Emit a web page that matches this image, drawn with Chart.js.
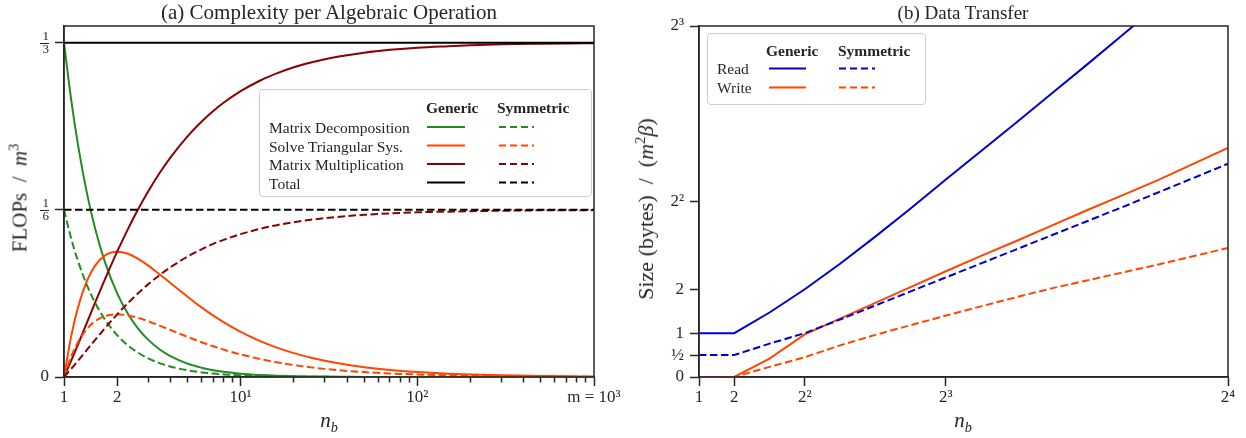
<!DOCTYPE html>
<html><head><meta charset="utf-8">
<script src="https://cdn.jsdelivr.net/npm/chart.js@4.4.1/dist/chart.umd.min.js"></script>
<style>
html,body{margin:0;padding:0;background:#fff;}
body{width:1246px;height:438px;position:relative;overflow:hidden;font-family:"Liberation Serif",serif;color:#262626;}
.wrap{position:absolute;top:0;}
.t{position:absolute;white-space:nowrap;line-height:1;z-index:5;}
.title{font-size:19px;transform:translate(-50%,-50%);}
.xlab{font-size:21px;transform:translate(-50%,-50%);}
.ylab{font-size:21px;transform:translate(-50%,-50%) rotate(-90deg);}
sup,sub{font-size:68%;line-height:0;}
.leg{position:absolute;border:1px solid #cccccc;border-radius:4px;background:rgba(255,255,255,0.8);box-sizing:border-box;z-index:6;}
.leg .t{font-size:15.5px;transform:translateY(-50%);}
.leg .h{font-weight:bold;}
.leg svg{position:absolute;left:0;top:0;overflow:visible;}
</style></head>
<body>
<div class="wrap" style="left:0;width:640px;height:438px"><canvas id="cL" width="640" height="438"></canvas></div>
<div class="wrap" style="left:640px;width:606px;height:438px"><canvas id="cR" width="606" height="438"></canvas></div>

<div class="t title" style="left:329px;top:12px;font-size:21px">(a) Complexity per Algebraic Operation</div>
<div class="t title" style="left:963px;top:12px">(b) Data Transfer</div>
<div class="t ylab" style="left:20px;top:198px">FLOPs&nbsp; / &nbsp;<i>m</i><sup>3</sup></div>
<div class="t ylab" style="left:646px;top:209px;font-size:22px">Size (bytes)&nbsp; / &nbsp;(<i>m</i><sup>2</sup><i>β</i>)</div>
<div class="t xlab" style="left:329px;top:420px"><i>n</i><sub><i>b</i></sub></div>
<div class="t xlab" style="left:963px;top:420px"><i>n</i><sub><i>b</i></sub></div>

<div class="leg" style="left:259px;top:89px;width:333px;height:108px">
  <div class="t h" style="left:166px;top:18px">Generic</div>
  <div class="t h" style="left:237px;top:18px">Symmetric</div>
  <div class="t" style="left:9px;top:38px">Matrix Decomposition</div>
  <div class="t" style="left:9px;top:56.5px">Solve Triangular Sys.</div>
  <div class="t" style="left:9px;top:75px">Matrix Multiplication</div>
  <div class="t" style="left:9px;top:93.5px">Total</div>
  <svg width="333" height="108">
    <g stroke-width="2" fill="none">
      <line x1="167" x2="205" y1="37" y2="37" stroke="#228B22"/>
      <line x1="239" x2="274" y1="37" y2="37" stroke="#228B22" stroke-dasharray="7,4"/>
      <line x1="167" x2="205" y1="55.5" y2="55.5" stroke="#FF4500"/>
      <line x1="239" x2="274" y1="55.5" y2="55.5" stroke="#FF4500" stroke-dasharray="7,4"/>
      <line x1="167" x2="205" y1="74" y2="74" stroke="#8B0000"/>
      <line x1="239" x2="274" y1="74" y2="74" stroke="#8B0000" stroke-dasharray="7,4"/>
      <line x1="167" x2="205" y1="92.5" y2="92.5" stroke="#000000"/>
      <line x1="239" x2="274" y1="92.5" y2="92.5" stroke="#000000" stroke-dasharray="7,4"/>
    </g>
  </svg>
</div>

<div class="leg" style="left:707px;top:33px;width:219px;height:72px">
  <div class="t h" style="left:58px;top:17px">Generic</div>
  <div class="t h" style="left:130px;top:17px">Symmetric</div>
  <div class="t" style="left:9px;top:35px">Read</div>
  <div class="t" style="left:9px;top:54px">Write</div>
  <svg width="219" height="72">
    <g stroke-width="2" fill="none">
      <line x1="61" x2="98" y1="34.5" y2="34.5" stroke="#0000CD"/>
      <line x1="131" x2="167" y1="34.5" y2="34.5" stroke="#0000CD" stroke-dasharray="7,4"/>
      <line x1="61" x2="98" y1="53.5" y2="53.5" stroke="#FF4500"/>
      <line x1="131" x2="167" y1="53.5" y2="53.5" stroke="#FF4500" stroke-dasharray="7,4"/>
    </g>
  </svg>
</div>

<script>
// ---------- (a) Complexity per Algebraic Operation ----------
const nbA = [1, 1.1, 1.2, 1.35, 1.5, 1.7, 2, 2.3, 2.6, 3, 3.5, 4, 5, 6, 7, 8, 10, 13, 16, 20, 25, 30, 40, 50, 70, 100, 150, 200, 300, 500, 700, 1000];
const decompGeneric = [0.3333, 0.2755, 0.2315, 0.1829, 0.1481, 0.1153, 0.0833, 0.0630, 0.0493, 0.0370, 0.0272, 0.0208, 0.0133, 0.0093, 0.0068, 0.0052, 0.0033, 0.0020, 0.0013, 0.0008, 0.0005, 0.0004, 0.0002, 0.0001, 0.0001, 0, 0, 0, 0, 0, 0, 0];
const trsmGeneric = [0, 0.0413, 0.0694, 0.0960, 0.1111, 0.1211, 0.1250, 0.1229, 0.1183, 0.1111, 0.1020, 0.0938, 0.0800, 0.0694, 0.0612, 0.0547, 0.0450, 0.0355, 0.0293, 0.0238, 0.0192, 0.0161, 0.0122, 0.0098, 0.0070, 0.0050, 0.0033, 0.0025, 0.0017, 0.0010, 0.0007, 0.0005];
const gemmGeneric = [0, 0.0165, 0.0324, 0.0544, 0.0741, 0.0969, 0.1250, 0.1475, 0.1657, 0.1852, 0.2041, 0.2188, 0.2400, 0.2546, 0.2653, 0.2734, 0.2850, 0.2959, 0.3027, 0.3088, 0.3136, 0.3169, 0.3209, 0.3234, 0.3262, 0.3284, 0.3299, 0.3308, 0.3317, 0.3323, 0.3326, 0.3328];
const decompSymmetric = [0.1667, 0.1377, 0.1157, 0.0914, 0.0741, 0.0577, 0.0417, 0.0315, 0.0247, 0.0185, 0.0136, 0.0104, 0.0067, 0.0046, 0.0034, 0.0026, 0.0017, 0.0010, 0.0007, 0.0004, 0.0003, 0.0002, 0.0001, 0.0001, 0, 0, 0, 0, 0, 0, 0, 0];
const trsmSymmetric = [0, 0.0207, 0.0347, 0.0480, 0.0556, 0.0606, 0.0625, 0.0614, 0.0592, 0.0556, 0.0510, 0.0469, 0.0400, 0.0347, 0.0306, 0.0273, 0.0225, 0.0178, 0.0146, 0.0119, 0.0096, 0.0081, 0.0061, 0.0049, 0.0035, 0.0025, 0.0017, 0.0012, 0.0008, 0.0005, 0.0004, 0.0002];
const gemmSymmetric = [0, 0.0083, 0.0162, 0.0272, 0.0370, 0.0484, 0.0625, 0.0737, 0.0828, 0.0926, 0.1020, 0.1094, 0.1200, 0.1273, 0.1327, 0.1367, 0.1425, 0.1479, 0.1514, 0.1544, 0.1568, 0.1584, 0.1605, 0.1617, 0.1631, 0.1642, 0.1649, 0.1654, 0.1658, 0.1662, 0.1663, 0.1664];
const nbTotal = [1, 1000];
const totalGeneric = [0.3333, 0.3333];
const totalSymmetric = [0.1667, 0.1667];

const xTicksA = [1, 2, 3, 4, 5, 6, 7, 8, 9, 10, 20, 30, 40, 50, 60, 70, 80, 90, 100, 200, 300, 400, 500, 600, 700, 800, 900, 1000];
const xMajorA = [1, 2, 10, 100, 1000];
const xLabelsA = ['1', '2', '10¹', '10²', 'm = 10³'];
const yTicksA = [0, 1/6, 1/3];
const yLabelsA = ['0', ['1', '6'], ['1', '3']];

// ---------- (b) Data Transfer ----------
const nbB = [1, 2, 3, 4, 5, 6, 7, 8, 9, 10, 11, 12, 13, 14, 15, 16];
const readGeneric = [1, 1, 1.47, 2.0, 2.58, 3.2, 3.84, 4.5, 5.15, 5.8, 6.46, 7.12, 7.79, 8.46, 9.13, 9.8];
const writeGeneric = [0, 0, 0.42, 0.97, 1.33, 1.69, 2.05, 2.41, 2.76, 3.1, 3.45, 3.8, 4.14, 4.48, 4.85, 5.22];
const readSymmetric = [0.5, 0.5, 0.76, 1.0, 1.31, 1.63, 1.95, 2.27, 2.59, 2.91, 3.23, 3.55, 3.87, 4.2, 4.53, 4.86];
const writeSymmetric = [0, 0, 0.23, 0.45, 0.72, 0.96, 1.18, 1.4, 1.61, 1.82, 2.02, 2.2, 2.38, 2.56, 2.75, 2.94];
const xTicksB = [1, 2, 4, 8, 16];
const xLabelsB = ['1', '2', '2²', '2³', '2⁴'];
const yTicksB = [0, 0.5, 1, 2, 4, 8];
const yLabelsB = ['0', '½', '1', '2', '2²', '2³'];

// ---------- styling ----------
const INK = '#262626';
const FAM = "'Liberation Serif', serif";
const GREEN = '#228B22', ORANGE = '#FF4500', DARKRED = '#8B0000', BLUE = '#0000CD', BLACK = '#000000';
const DASH = [7.5, 3.5];

function pts(xs, ys) { return xs.map((x, i) => ({x: x, y: ys[i]})); }
function line(label, xs, ys, color, dashed, smooth) {
  return {
    label: label, data: pts(xs, ys), borderColor: color, backgroundColor: color,
    borderWidth: 2, borderDash: dashed ? DASH : [], pointRadius: 0, fill: false,
    tension: 0, cubicInterpolationMode: smooth ? 'monotone' : 'default', borderCapStyle: 'butt'
  };
}

const framePlugin = {
  id: 'frame',
  afterDraw(chart) {
    const a = chart.chartArea, ctx = chart.ctx;
    ctx.save();
    ctx.strokeStyle = INK; ctx.lineWidth = 1.5;
    ctx.strokeRect(a.left, a.top, a.right - a.left, a.bottom - a.top);
    ctx.restore();
  }
};
const fracPlugin = {
  id: 'frac',
  afterDraw(chart) {
    const y = chart.scales.y, ctx = chart.ctx;
    ctx.save();
    ctx.strokeStyle = INK; ctx.lineWidth = 1;
    yTicksA.forEach((v, i) => {
      if (!Array.isArray(yLabelsA[i])) return;
      const py = Math.round(y.getPixelForValue(v)) + 0.5;
      ctx.beginPath();
      ctx.moveTo(y.right - 9 - 6 - 9, py);
      ctx.lineTo(y.right - 9 - 6, py);
      ctx.stroke();
    });
    ctx.restore();
  }
};

function axisBase() {
  return {
    border: {display: true, color: INK, width: 1.5},
    grid: {display: true, drawOnChartArea: false, drawTicks: true, tickLength: 9, tickWidth: 1.5, tickColor: INK},
  };
}

// chart (a)
const xA = axisBase();
Object.assign(xA, {
  type: 'logarithmic', min: 1, max: 1000,
  afterBuildTicks: s => { s.ticks = xTicksA.map(v => ({value: v})); },
  afterFit: s => { s.height = 61; },
  ticks: {
    autoSkip: false, maxRotation: 0, minRotation: 0, padding: 1, color: INK,
    font: {family: FAM, size: 17},
    callback: v => { const k = xMajorA.indexOf(v); return k >= 0 ? xLabelsA[k] : ''; }
  }
});
xA.grid.tickBorderDash = c => (c.tick && xMajorA.indexOf(c.tick.value) < 0) ? [5, 40] : [];
const yA = axisBase();
Object.assign(yA, {
  type: 'linear', min: 0, max: 0.35,
  afterBuildTicks: s => { s.ticks = yTicksA.map(v => ({value: v})); },
  afterFit: s => { s.width = 64; },
  ticks: {
    autoSkip: false, padding: 6, color: INK,
    font: c => (c.tick && c.tick.value !== 0) ? {family: FAM, size: 13, lineHeight: 1.0} : {family: FAM, size: 17},
    callback: (v, i) => yLabelsA[i]
  }
});

new Chart(document.getElementById('cL'), {
  type: 'line',
  data: {
    datasets: [
      line('Total (Generic)', nbTotal, totalGeneric, BLACK, false, false),
      line('Total (Symmetric)', nbTotal, totalSymmetric, BLACK, true, false),
      line('Matrix Multiplication (Symmetric)', nbA, gemmSymmetric, DARKRED, true, true),
      line('Solve Triangular Sys. (Symmetric)', nbA, trsmSymmetric, ORANGE, true, true),
      line('Matrix Decomposition (Symmetric)', nbA, decompSymmetric, GREEN, true, true),
      line('Matrix Multiplication (Generic)', nbA, gemmGeneric, DARKRED, false, true),
      line('Solve Triangular Sys. (Generic)', nbA, trsmGeneric, ORANGE, false, true),
      line('Matrix Decomposition (Generic)', nbA, decompGeneric, GREEN, false, true)
    ]
  },
  options: {
    responsive: false, animation: false, devicePixelRatio: 1,
    layout: {padding: {left: 0, right: 46, top: 26, bottom: 0}},
    plugins: {legend: {display: false}, title: {display: false}, tooltip: {enabled: false}},
    scales: {x: xA, y: yA}
  },
  plugins: [framePlugin, fracPlugin]
});

// chart (b)
const xB = axisBase();
Object.assign(xB, {
  type: 'linear', min: 1, max: 16,
  afterBuildTicks: s => { s.ticks = xTicksB.map(v => ({value: v})); },
  afterFit: s => { s.height = 61; },
  ticks: {
    autoSkip: false, maxRotation: 0, minRotation: 0, padding: 1, color: INK,
    font: {family: FAM, size: 17},
    callback: (v, i) => xLabelsB[i]
  }
});
const yB = axisBase();
Object.assign(yB, {
  type: 'linear', min: 0, max: 8,
  afterBuildTicks: s => { s.ticks = yTicksB.map(v => ({value: v})); },
  afterFit: s => { s.width = 59; },
  ticks: {
    autoSkip: false, padding: 6, color: INK,
    font: {family: FAM, size: 17},
    callback: (v, i) => yLabelsB[i]
  }
});

new Chart(document.getElementById('cR'), {
  type: 'line',
  data: {
    datasets: [
      line('Write (Symmetric)', nbB, writeSymmetric, ORANGE, true, false),
      line('Read (Symmetric)', nbB, readSymmetric, BLUE, true, false),
      line('Write (Generic)', nbB, writeGeneric, ORANGE, false, false),
      line('Read (Generic)', nbB, readGeneric, BLUE, false, false)
    ]
  },
  options: {
    responsive: false, animation: false, devicePixelRatio: 1,
    layout: {padding: {left: 0, right: 18, top: 26, bottom: 0}},
    plugins: {legend: {display: false}, title: {display: false}, tooltip: {enabled: false}},
    scales: {x: xB, y: yB}
  },
  plugins: [framePlugin]
});
</script>
</body></html>
